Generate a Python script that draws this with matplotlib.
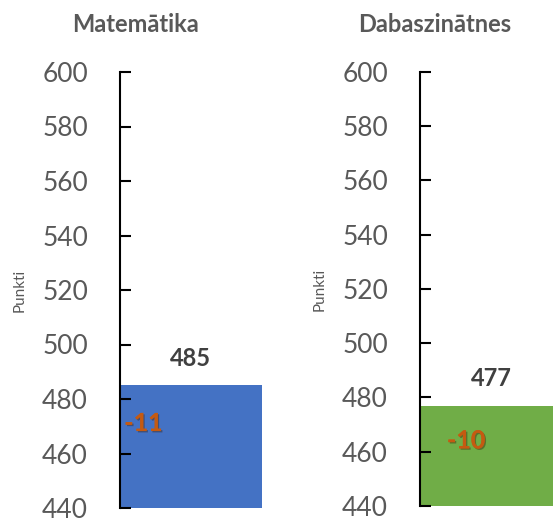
import matplotlib.pyplot as plt
import matplotlib.patheffects as pe

plt.rcParams['font.family'] = ['Lato', 'DejaVu Sans']

subjects = ['Matemātika', 'Dabaszinātnes']
scores = [485, 477]
changes = [-11, -10]
change_y = [471, 464]
colors = ['#4472C4', '#70AD47']
yticks = [440, 460, 480, 500, 520, 540, 560, 580, 600]

fig = plt.figure(figsize=(5.53, 5.18), dpi=100)
W, H = 553, 518
# axes boxes in pixels: left, bottom, width, height
boxes = [(120, 10, 142, 436), (420, 12, 142, 434)]
change_x = [0.03, 0.19]

for i, (l, b, w, h) in enumerate(boxes):
    ax = fig.add_axes([l / W, b / H, w / W, h / H])
    ax.bar([0.5], [scores[i] - 440], bottom=440, width=1.0, color=colors[i])
    ax.set_xlim(0, 1)
    ax.set_ylim(440, 600)
    ax.set_yticks(yticks)
    ax.set_xticks([])
    for s in ['top', 'right', 'bottom']:
        ax.spines[s].set_visible(False)
    ax.spines['left'].set_linewidth(1.5)
    ax.tick_params(axis='y', direction='in', length=8, width=1.5, pad=23,
                   labelsize=19, labelcolor='#595959')
    ax.set_ylabel('Punkti', fontsize=11, color='#595959')
    ax.yaxis.set_label_coords(-0.66, 0.5)
    ax.annotate(str(scores[i]), (0.5, scores[i]), xytext=(0, 11),
                textcoords='offset points', ha='center', va='bottom',
                fontsize=17, fontweight='bold', color='#404040')
    t = ax.text(change_x[i], change_y[i], str(changes[i]), ha='left', va='center',
                fontsize=18, fontweight='bold', color='#C55A11')
    t.set_path_effects([pe.withSimplePatchShadow(offset=(1, -1), alpha=0.4), pe.Normal()])
    fig.text((l + 15) / W, 1 - 25 / H, subjects[i], ha='center', va='center',
             fontsize=17, fontweight='bold', color='#595959')

fig.savefig('out.png', dpi=100)
